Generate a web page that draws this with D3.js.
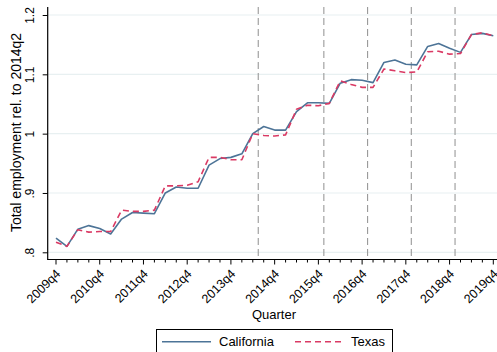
<!DOCTYPE html>
<html>
<head>
<meta charset="utf-8">
<script src="https://cdn.jsdelivr.net/npm/d3@7"></script>
<style>
  html, body { margin: 0; padding: 0; background: #fff; }
  svg { display: block; font-family: "Liberation Sans", Arial, Helvetica, sans-serif; }
</style>
</head>
<body>
<svg id="chart" width="497" height="352"></svg>
<script>
// Quarters 2009q4 .. 2019q4
const quarters = [
  "2009q4","2010q1","2010q2","2010q3","2010q4","2011q1","2011q2","2011q3","2011q4",
  "2012q1","2012q2","2012q3","2012q4","2013q1","2013q2","2013q3","2013q4",
  "2014q1","2014q2","2014q3","2014q4","2015q1","2015q2","2015q3","2015q4",
  "2016q1","2016q2","2016q3","2016q4","2017q1","2017q2","2017q3","2017q4",
  "2018q1","2018q2","2018q3","2018q4","2019q1","2019q2","2019q3","2019q4"
];

// Total employment relative to 2014q2
const california = [
  0.824, 0.810, 0.839, 0.845, 0.840, 0.831, 0.856, 0.867, 0.866, 0.865,
  0.900, 0.910, 0.908, 0.908, 0.947, 0.958, 0.960, 0.966, 1.000, 1.012,
  1.006, 1.006, 1.037, 1.052, 1.052, 1.051, 1.085, 1.091, 1.090, 1.086,
  1.120, 1.124, 1.117, 1.116, 1.147, 1.152, 1.144, 1.137, 1.167, 1.169, 1.165
];
const texas = [
  0.817, 0.810, 0.838, 0.834, 0.835, 0.835, 0.871, 0.869, 0.869, 0.871,
  0.912, 0.912, 0.913, 0.919, 0.960, 0.960, 0.956, 0.956, 1.000, 0.997,
  0.996, 0.998, 1.041, 1.048, 1.047, 1.051, 1.089, 1.083, 1.078, 1.078,
  1.109, 1.106, 1.103, 1.104, 1.138, 1.139, 1.134, 1.135, 1.167, 1.170, 1.165
];

// Labelled quarters on the x axis, y-axis ticks and their labels
const xTickLabels = ["2009q4","2010q4","2011q4","2012q4","2013q4","2014q4",
                     "2015q4","2016q4","2017q4","2018q4","2019q4"];
const yTicks = [0.8, 0.9, 1.0, 1.1, 1.2];
const yTickLabels = [".8", ".9", "1", "1.1", "1.2"];

// Reference lines, halfway between the listed quarter and the next one
const refLineQuarters = ["2014q2","2015q4","2016q4","2017q4","2018q4"];

const seriesNames = ["California", "Texas"];
const seriesColors = ["#4d7497", "#da3a64"];

const svg = d3.select("#chart");

const x = d3.scaleLinear().domain([0, quarters.length - 1]).range([56, 493.3]);
const y = d3.scaleLinear().domain([0.8, 1.2]).range([252.3, 15]);

const axisX0 = 47.7, axisY0 = 259.5, plotTop = 7, plotRight = 497;

// horizontal grid
svg.append("g").selectAll("line").data(yTicks).join("line")
  .attr("x1", axisX0).attr("x2", plotRight)
  .attr("y1", d => y(d)).attr("y2", d => y(d))
  .attr("stroke", "#e8f0f1").attr("stroke-width", 1.2);

// vertical dashed reference lines
svg.append("g").selectAll("line").data(refLineQuarters).join("line")
  .attr("x1", d => x(quarters.indexOf(d) + 0.5))
  .attr("x2", d => x(quarters.indexOf(d) + 0.5))
  .attr("y1", plotTop).attr("y2", axisY0)
  .attr("stroke", "#9a9a9a").attr("stroke-width", 1.1)
  .attr("stroke-dasharray", "7,4");

// y axis
const yAxis = d3.axisLeft(y).tickValues(yTicks)
  .tickFormat((d, i) => yTickLabels[i]).tickSize(5).tickPadding(4);
const gy = svg.append("g").attr("transform", `translate(${axisX0},0)`).call(yAxis);
gy.select(".domain").remove();
gy.selectAll(".tick line").attr("stroke", "#000");
gy.selectAll(".tick text")
  .attr("font-size", 12).attr("fill", "#000")
  .attr("text-anchor", "middle")
  .attr("x", 0).attr("dy", "0.35em")
  .attr("transform", "translate(-17.5,0) rotate(-90)");
svg.append("line").attr("x1", axisX0).attr("x2", axisX0)
  .attr("y1", plotTop).attr("y2", axisY0 + 0.5).attr("stroke", "#000").attr("stroke-width", 1.2);

// x axis: minor ticks every quarter, major ticks labelled
const majorIdx = xTickLabels.map(l => quarters.indexOf(l));
svg.append("g").selectAll("line").data(d3.range(quarters.length)).join("line")
  .attr("x1", d => x(d)).attr("x2", d => x(d))
  .attr("y1", axisY0)
  .attr("y2", d => axisY0 + (majorIdx.includes(d) ? 5 : 3))
  .attr("stroke", "#000").attr("stroke-width", 1);
svg.append("line").attr("x1", axisX0).attr("x2", plotRight)
  .attr("y1", axisY0).attr("y2", axisY0).attr("stroke", "#000").attr("stroke-width", 1.2);

svg.append("g").selectAll("text").data(xTickLabels).join("text")
  .attr("transform", d => `translate(${x(quarters.indexOf(d)) + 2.2},${axisY0 + 12}) rotate(-45)`)
  .attr("text-anchor", "end")
  .attr("dy", "0.35em")
  .attr("font-size", 12.5)
  .attr("fill", "#000")
  .text(d => d);

// axis titles
svg.append("text")
  .attr("transform", `translate(16.5,132.5) rotate(-90)`)
  .attr("text-anchor", "middle").attr("dy", "0.35em")
  .attr("font-size", 14).attr("fill", "#000")
  .text("Total employment rel. to 2014q2");
svg.append("text")
  .attr("x", 274).attr("y", 314).attr("dy", "0.35em")
  .attr("text-anchor", "middle")
  .attr("font-size", 13).attr("fill", "#000")
  .text("Quarter");

// series lines
const line = d3.line().x((d, i) => x(i)).y(d => y(d));
const series = [california, texas];
svg.append("g").selectAll("path").data(series).join("path")
  .attr("d", d => line(d))
  .attr("fill", "none")
  .attr("stroke", (d, i) => seriesColors[i])
  .attr("stroke-width", 1.6)
  .attr("stroke-linejoin", "round")
  .attr("stroke-dasharray", (d, i) => i === 1 ? "6,4" : null);

// legend
const lg = svg.append("g");
lg.append("rect").attr("x", 156.5).attr("y", 329.5).attr("width", 236).attr("height", 40)
  .attr("fill", "#fff").attr("stroke", "#000").attr("stroke-width", 1);
const legendItems = [
  { x0: 162, x1: 211, tx: 219 },
  { x0: 295, x1: 342, tx: 351 }
];
legendItems.forEach((it, i) => {
  lg.append("line").attr("x1", it.x0).attr("x2", it.x1).attr("y1", 341.7).attr("y2", 341.7)
    .attr("stroke", seriesColors[i]).attr("stroke-width", 1.6)
    .attr("stroke-dasharray", i === 1 ? "6,4" : null);
  lg.append("text").attr("x", it.tx).attr("y", 341.7).attr("dy", "0.35em")
    .attr("font-size", 13).attr("fill", "#000").text(seriesNames[i]);
});
</script>
</body>
</html>
